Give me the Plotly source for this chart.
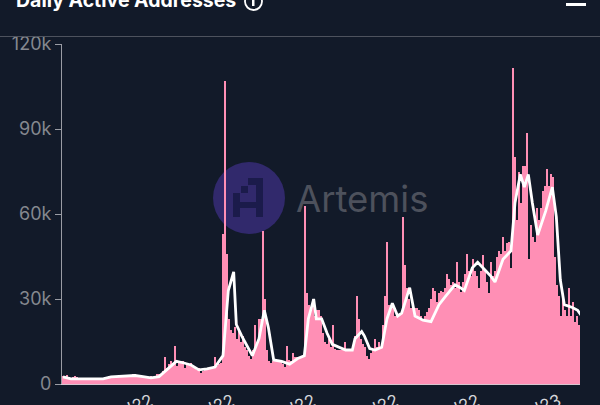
import pandas as pd
import plotly.graph_objects as go

START = "2022-01-01"
daily_k = [
    3,2.6,3.2,2.4,2.2,2.6,3,2.4,2.2,2,
    2,1.9,1.8,1.9,2,1.8,1.7,1.8,1.9,2,
    2.2,2.4,2.6,2.8,2.6,2.8,3,2.8,3,2.9,
    3,3.2,2.9,3.2,3.1,3.6,3.4,3,3,2.8,
    2.6,2.4,2.3,2.6,2.8,2.6,3,3.4,3.6,3.6,
    4.5,9.6,5.5,7,8,7,13.5,6.5,8,8,
    8,5.5,7.5,7,7.5,6.5,6,5,5.5,4,
    4.5,5,5.2,5.5,5.8,6,9.6,6.5,7,7.5,
    53,107,46,23,19,18,20,16,19,15,
    17,13,12,10,9,12,21,14,23,23,
    54,30,12,8,7.5,8,8,8,8,8,
    7,6,13.5,8.5,8,11,9.5,9.5,9.5,9.5,
    10,63,32,28,27,30,24,26,26,24,
    18,15,14,16,13,21,12.5,12,12,12,
    12,15,12,11.5,11.5,13,17,31,23,16,
    14,13,10,9,11,12,16,13,15,13,
    21,31,50,28,28,28,24,25,24,25,
    59,42,34,30,27,28,27,27,26,24,
    22.5,24,25.5,27,30,34,33,29,32,33,
    32.5,34,39,37,35,36,34,43,36,32.5,
    36,39,46,40,38,44,40,38,34,40,
    45.5,40,36,32,43,38,40,45,47,46,
    52,47,49.6,50,41,111.5,80,58,75,64,
    77,77,88.6,44,56,52,50,62,58,62,
    68,70,76,70,74,73,45,35,31,24,
    31,26,24,34,24,29,22,24,21,
]
avg_days = [0,6,12,18,24,30,36,42,48,54,60,66,72,78,85,90,96,102,108,114,120,124,128,130,134,142,147,151,154,158,
            164,170,176,181,184,188,190,194,198,202,207,212,217,219,224,226,230,234,239,243,247,251,254,260,264,270,
            276,282,287,294,298,301,307,311,317,321,324,330,336,339,343,346,349,352,356,362,367,370,373,376,382,386,389]
avg_k = [2.5,1.8,1.8,1.8,1.6,1.8,2.5,2.6,2.8,3,2.6,2.2,2.6,5,8,7.5,6.7,5,5.3,6,10,33,39.6,21,17,10,16,26,20,8.5,
         8,7,9,10,23,30,23,23,18,14,13,12,12,16,18.5,17,12.5,12,13,23,28.5,24,25,34,24,22.5,
         22,28,31,35,34,33,41,43,40,38,36,44,47,64,74,69.5,74,64,52.6,61,69.5,59,36.7,28,27,26,24]
tick_dates = ["2022-03-08","2022-05-08","2022-07-08","2022-09-08","2022-11-08","2023-01-08"]
tick_text = ["Mar '22","May '22","Jul '22","Sep '22","Nov '22","Jan '23"]
y_ticks = [0,30000,60000,90000,120000]
y_text = ["0","30k","60k","90k","120k"]

t0 = pd.Timestamp(START)
bar_x = [t0 + pd.Timedelta(hours=36*i) for i in range(len(daily_k))]
line_x = [t0 + pd.Timedelta(days=d) for d in avg_days]

BG = "#121a29"
L, T, W, H = 62, 44, 518, 340
px = lambda x: (x - L) / W
py = lambda y: (T + H - y) / H

def rect(x0, y0, x1, y1, color, layer="below"):
    return dict(type="rect", xref="paper", yref="paper", x0=px(x0), x1=px(x1), y0=py(y1), y1=py(y0),
                fillcolor=color, line_width=0, layer=layer)

shapes = [
    dict(type="circle", xref="paper", yref="paper", x0=px(213), x1=px(285), y0=py(234), y1=py(162),
         fillcolor="#31296c", line_width=0, layer="below"),
]
for r in [(256,178,263,217),(248,178,256,185),(241,186,248,193),(233,193,240,217),(240,202,256,208)]:
    shapes.append(rect(*r, "#1b1b4b"))
shapes += [
    dict(type="line", xref="paper", yref="paper", x0=px(0), x1=px(600), y0=py(36.5), y1=py(36.5),
         line=dict(color="#4d525d", width=1), layer="above"),
    rect(566, 3, 586, 6, "#ffffff", "above"),
    rect(252, 0, 254.5, 6, "#ffffff", "above"),
    dict(type="circle", xref="paper", yref="paper", x0=px(245), x1=px(262), y0=py(10), y1=py(-7),
         fillcolor="rgba(0,0,0,0)", line=dict(color="#ffffff", width=1.8), layer="above"),
]

fig = go.Figure()
fig.add_bar(x=bar_x, y=[v*1000 for v in daily_k], marker=dict(color="#ff8fb5", line_width=0), name="Daily")
fig.add_scatter(x=line_x, y=[v*1000 for v in avg_k], mode="lines", line=dict(color="#ffffff", width=2.8), name="7d avg")

fig.update_layout(
    width=600, height=405, margin=dict(l=L, r=600-L-W, t=T, b=405-T-H, autoexpand=False),
    paper_bgcolor=BG, plot_bgcolor=BG, showlegend=False, bargap=0,
    font=dict(family="Inter", color="#8b8e97"), shapes=shapes,
    annotations=[
        dict(text="<b>Daily Active Addresses</b>", xref="paper", yref="paper", x=px(14), y=py(0), xanchor="left",
             yanchor="middle", showarrow=False, font=dict(size=19.5, color="#ffffff", family="Inter")),
        dict(text="Artemis", xref="paper", yref="paper", x=px(294), y=py(199), xanchor="left",
             yanchor="middle", showarrow=False, font=dict(size=36.5, color="#4d515c", family="Inter")),
    ],
)
fig.update_xaxes(
    range=[t0 - pd.Timedelta(hours=18), bar_x[-1] + pd.Timedelta(hours=18)],
    tickvals=tick_dates, ticktext=tick_text, tickangle=-22, showgrid=False, zeroline=False,
    showline=True, linecolor="#d9c6d0", linewidth=1, ticks="", ticklen=0,
    tickfont=dict(size=17, color="#d5d6da", family="Inter"),
)
fig.update_yaxes(
    range=[0, 120000], tickvals=y_ticks, ticktext=y_text, showgrid=False, zeroline=False,
    showline=True, linecolor="#9a9ca4", linewidth=1, ticks="outside", ticklen=6, tickcolor="#9a9ca4",
    tickfont=dict(size=18, color="#85888f", family="Inter"),
)
fig.write_html("out.html", config={"displayModeBar": False},
               post_script="document.body.style.margin='0';document.body.style.overflow='hidden';document.body.style.background='#121a29';")
